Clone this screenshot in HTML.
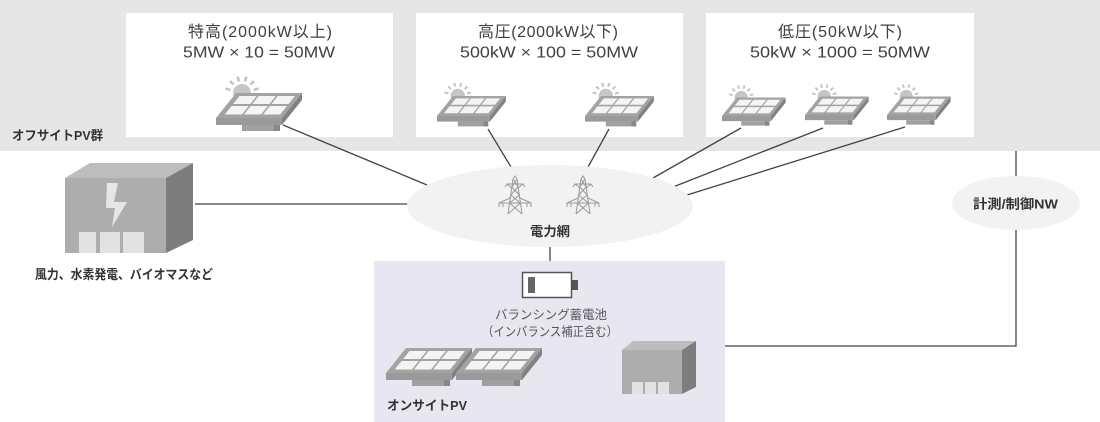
<!DOCTYPE html>
<html><head><meta charset="utf-8">
<style>
html,body{margin:0;padding:0;background:#fff;}
svg{display:block;}
.t{font-family:"Liberation Sans","Noto Sans CJK JP",sans-serif;fill:#3f3f3f;font-size:16px;}
.b{font-family:"Liberation Sans","Noto Sans CJK JP",sans-serif;fill:#333;font-weight:bold;font-size:13px;}
.m{font-family:"Liberation Sans","Noto Sans CJK JP",sans-serif;fill:#555;font-size:12.5px;}
</style></head>
<body>
<svg width="1100" height="422" viewBox="0 0 1100 422" xmlns="http://www.w3.org/2000/svg">
<defs>
  <g id="pv">
    <polygon points="0,0 66,0 86,-25 20,-25" fill="#a3a3a3"/>
    <polygon points="0,0 66,0 66,7 0,7" fill="#9a9a9a"/>
    <polygon points="66,0 86,-25 86,-18 66,7" fill="#818181"/>
    <rect x="26" y="7" width="38" height="6" fill="#a0a0a0"/>
    <rect x="58" y="7" width="6" height="6" fill="#888"/>
    <g fill="#f4f4f4">
      <polygon points="8.74,-3.5 25.9,-3.5 32.7,-12 15.54,-12"/>
      <polygon points="27.88,-3.5 45.04,-3.5 51.84,-12 34.68,-12"/>
      <polygon points="47.02,-3.5 64.18,-3.5 70.98,-12 53.82,-12"/>
      <polygon points="17.14,-14 34.3,-14 40.7,-22 23.54,-22"/>
      <polygon points="36.28,-14 53.44,-14 59.84,-22 42.68,-22"/>
      <polygon points="55.42,-14 72.58,-14 78.98,-22 61.82,-22"/>
    </g>
  </g>
  <g id="pvs">
    <circle cx="26" cy="-25" r="9" fill="#c6c6c6"/>
    <g stroke="#c2c2c2" stroke-width="2.5">
      <line x1="14.4" y1="-28.1" x2="9.6" y2="-29.4"/>
      <line x1="17.5" y1="-33.5" x2="14" y2="-37"/>
      <line x1="22.9" y1="-36.6" x2="21.6" y2="-41.4"/>
      <line x1="29.1" y1="-36.6" x2="30.4" y2="-41.4"/>
      <line x1="34.5" y1="-33.5" x2="38" y2="-37"/>
      <line x1="37.6" y1="-28.1" x2="42.4" y2="-29.4"/>
    </g>
    <use href="#pv"/>
  </g>
  <g id="tower" fill="none" stroke="#9a9a9a" stroke-width="1">
    <path d="M-2,2 L-7,37 M2,2 L7,37 M-2,2 L0,-1 L2,2"/>
    <path d="M-10,10 L-8,7 L8,7 L10,10 M-8,7 L-3,11 M8,7 L3,11"/>
    <path d="M-16,26 L16,26 M-16,26 L-5,21 M16,26 L5,21 M-16,26 L-16,30 M-12,26 L-12,30 M12,26 L12,30 M16,26 L16,30"/>
    <path d="M-2,2 L3.14,10 M2,2 L-3.14,10 M-3.14,10 L4.29,18 M3.14,10 L-4.29,18 M-4.29,18 L5.43,26 M4.29,18 L-5.43,26 M-5.43,26 L7,37 M5.43,26 L-7,37"/>
  </g>
</defs>

<!-- top band -->
<rect x="0" y="0" width="1100" height="151" fill="#e6e6e6"/>
<rect x="126" y="13" width="267" height="124" fill="#fff"/>
<rect x="416" y="13" width="267" height="124" fill="#fff"/>
<rect x="706" y="13" width="268" height="124" fill="#fff"/>

<text class="t" x="260" y="37" text-anchor="middle" textLength="144" lengthAdjust="spacing">特高(2000kW以上)</text>
<text class="t" x="259" y="57.5" text-anchor="middle" textLength="152" lengthAdjust="spacingAndGlyphs">5MW × 10 = 50MW</text>
<text class="t" x="548" y="37" text-anchor="middle" textLength="140" lengthAdjust="spacing">高圧(2000kW以下)</text>
<text class="t" x="549" y="57.5" text-anchor="middle" textLength="178" lengthAdjust="spacingAndGlyphs">500kW × 100 = 50MW</text>
<text class="t" x="840" y="37" text-anchor="middle" textLength="124" lengthAdjust="spacing">低圧(50kW以下)</text>
<text class="t" x="840" y="57.5" text-anchor="middle" textLength="180" lengthAdjust="spacingAndGlyphs">50kW × 1000 = 50MW</text>

<text class="b" x="12" y="140" textLength="91" lengthAdjust="spacingAndGlyphs">オフサイトPV群</text>

<!-- purple onsite box -->
<rect x="374" y="261" width="351" height="161" fill="#e7e6f1"/>

<!-- connectors -->
<g stroke="#444" stroke-width="1.3" fill="none">
  <line x1="283" y1="125" x2="427" y2="185"/>
  <line x1="195" y1="204" x2="409" y2="204"/>
  <line x1="488" y1="129" x2="511" y2="167"/>
  <line x1="609" y1="129" x2="588" y2="167"/>
  <line x1="741" y1="128" x2="653" y2="178"/>
  <line x1="823" y1="128" x2="673" y2="187"/>
  <line x1="905" y1="127" x2="687" y2="195"/>
  <line x1="550" y1="246" x2="550" y2="261"/>
  <line x1="1016" y1="151" x2="1016" y2="177"/>
  <polyline points="1016,229 1016,346 725,346"/>
</g>

<!-- grid ellipse -->
<ellipse cx="550" cy="206" rx="143" ry="41" fill="#f2f2f2"/>
<use href="#tower" transform="translate(515,177)"/>
<use href="#tower" transform="translate(583,177)"/>
<text class="b" x="550" y="236" text-anchor="middle" textLength="40" lengthAdjust="spacingAndGlyphs">電力網</text>

<!-- NW ellipse -->
<ellipse cx="1016" cy="203" rx="64" ry="27" fill="#f2f2f2"/>
<text class="b" x="973" y="208.5" textLength="85" lengthAdjust="spacingAndGlyphs">計測/制御NW</text>

<!-- panels -->
<use href="#pvs" transform="translate(216,118)"/>
<use href="#pvs" transform="translate(437,116) scale(0.8)"/>
<use href="#pvs" transform="translate(585,116) scale(0.8)"/>
<use href="#pvs" transform="translate(722,116) scale(0.74)"/>
<use href="#pvs" transform="translate(805,115) scale(0.74)"/>
<use href="#pvs" transform="translate(887,115) scale(0.74)"/>
<use href="#pv" transform="translate(386,373)"/>
<use href="#pv" transform="translate(456,373)"/>

<!-- left building -->
<rect x="65" y="178" width="101" height="75" fill="#adadad"/>
<polygon points="65,178 90,163 193,163 166,178" fill="#bdbdbd"/>
<polygon points="166,178 193,163 193,240 166,253" fill="#7d7d7d"/>
<polygon points="107,183 118,183 114,202 127,202 112,227 115,208 106,208" fill="#e6e6e6"/>
<rect x="79" y="232" width="17" height="21" fill="#e2e2e2"/>
<rect x="100" y="232" width="20" height="21" fill="#e2e2e2"/>
<rect x="123" y="232" width="21" height="21" fill="#e2e2e2"/>
<text class="b" x="35" y="279" textLength="178" lengthAdjust="spacingAndGlyphs">風力、水素発電、バイオマスなど</text>

<!-- battery -->
<rect x="522.5" y="272.5" width="49" height="25" fill="#fff" stroke="#555" stroke-width="1.5"/>
<rect x="572" y="280" width="6" height="10" fill="#555"/>
<rect x="528" y="277" width="7" height="16" fill="#666"/>
<text class="m" x="551" y="319" text-anchor="middle" textLength="112" lengthAdjust="spacingAndGlyphs">バランシング蓄電池</text>
<text class="m" x="550" y="336" text-anchor="middle" textLength="136" lengthAdjust="spacingAndGlyphs">（インバランス補正含む）</text>

<!-- small building -->
<rect x="622" y="350" width="60" height="44" fill="#adadad"/>
<polygon points="622,350 633,341 696,341 682,350" fill="#bdbdbd"/>
<polygon points="682,350 696,341 696,387 682,394" fill="#7d7d7d"/>
<rect x="632" y="382" width="11" height="12" fill="#e2e2e2"/>
<rect x="645" y="382" width="11" height="12" fill="#e2e2e2"/>
<rect x="658" y="382" width="11" height="12" fill="#e2e2e2"/>

<text class="b" x="387" y="410" textLength="80" lengthAdjust="spacingAndGlyphs">オンサイトPV</text>
</svg>
</body></html>
